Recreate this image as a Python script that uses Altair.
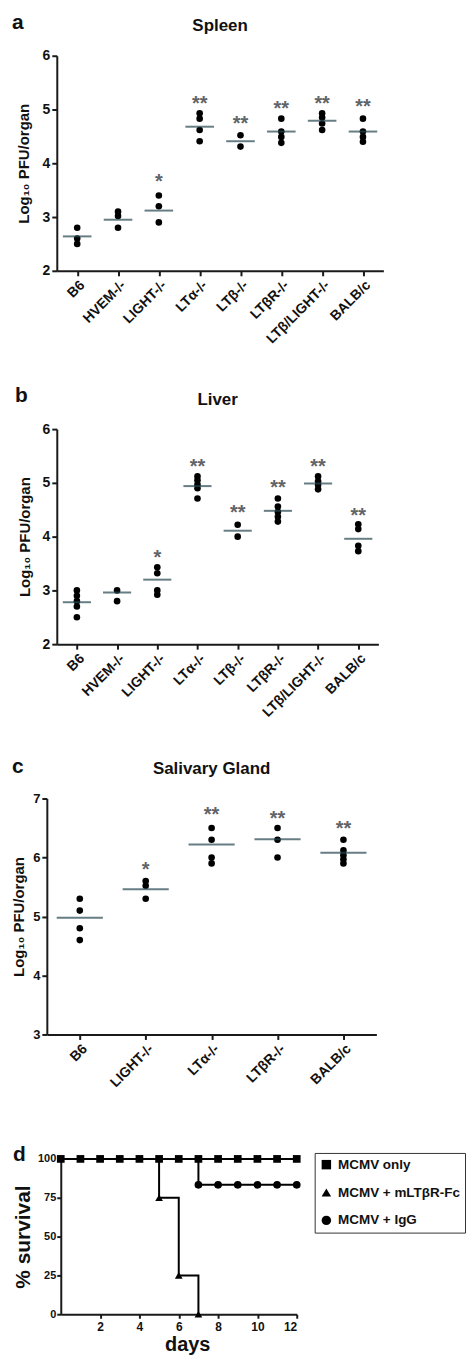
import altair as alt
import pandas as pd

FONT = "Liberation Sans"

# ---------------- data ----------------
spleen_groups = ["B6", "HVEM-/-", "LIGHT-/-", "LTα-/-", "LTβ-/-", "LTβR-/-", "LTβ/LIGHT-/-", "BALB/c"]
spleen_values = [[2.8, 2.6, 2.5], [3.1, 3.02, 2.8], [3.4, 3.2, 2.9], [4.93, 4.83, 4.62, 4.41],
                 [4.52, 4.31], [4.83, 4.59, 4.49, 4.38], [4.93, 4.85, 4.74, 4.62], [4.83, 4.59, 4.49, 4.4]]
spleen_means = [2.64, 2.95, 3.12, 4.68, 4.41, 4.59, 4.79, 4.59]
spleen_stars = ["", "", "*", "**", "**", "**", "**", "**"]
spleen_star_y = [0, 0, 3.74, 5.2, 4.83, 5.11, 5.2, 5.14]

liver_groups = spleen_groups
liver_values = [[3.0, 2.9, 2.8, 2.7, 2.5], [3.0, 2.8], [3.43, 3.32, 3.0, 2.92], [5.12, 5.05, 4.97, 4.9, 4.71],
                [4.22, 4.0], [4.71, 4.56, 4.46, 4.37, 4.28], [5.12, 5.03, 4.96, 4.88], [4.23, 4.14, 3.83, 3.73]]
liver_means = [2.78, 2.96, 3.2, 4.94, 4.11, 4.48, 4.99, 3.96]
liver_stars = ["", "", "*", "**", "**", "**", "**", "**"]
liver_star_y = [0, 0, 3.69, 5.39, 4.54, 5.0, 5.38, 4.48]

sal_groups = ["B6", "LIGHT-/-", "LTα-/-", "LTβR-/-", "BALB/c"]
sal_values = [[5.3, 5.1, 4.8, 4.6], [5.6, 5.52, 5.3], [6.5, 6.3, 6.0, 5.9], [6.5, 6.3, 6.0],
              [6.3, 6.12, 6.04, 5.97, 5.9]]
sal_means = [4.98, 5.46, 6.22, 6.31, 6.08]
sal_stars = ["", "*", "**", "**", "**"]
sal_star_y = [0, 5.88, 6.8, 6.74, 6.57]

surv_series = ["MCMV only", "MCMV + mLTβR-Fc", "MCMV + IgG"]
only_days = [0, 1, 2, 3, 4, 5, 6, 7, 8, 9, 10, 11, 12]
only_surv = [100, 100, 100, 100, 100, 100, 100, 100, 100, 100, 100, 100, 100]
fc_days = [0, 5, 6, 7]
fc_surv = [100, 75, 25, 0]
fc_marker = [False, True, True, True]
igg_days = [0, 7, 8, 9, 10, 11, 12]
igg_surv = [100, 83.3, 83.3, 83.3, 83.3, 83.3, 83.3]
igg_marker = [False, True, True, True, True, True, True]
surv_ticks = [0, 25, 50, 75, 100]
day_ticks = [2, 4, 6, 8, 10, 12]

# ---------------- helpers ----------------
AX = "#1a1a1a"
MEAN_COLOR = "#264650"
STAR_COLOR = "#5f6468"


def txt(text, x, y, size, align="left", weight="bold"):
    return alt.Chart(pd.DataFrame({"t": [text]})).mark_text(
        font=FONT, fontSize=size, fontWeight=weight, align=align, baseline="alphabetic", color="#111"
    ).encode(text="t:N", x=alt.value(x), y=alt.value(y))


def anchor(x, y):
    return alt.Chart(pd.DataFrame({"a": [0]})).mark_rule(opacity=0).encode(
        x=alt.value(x), x2=alt.value(x), y=alt.value(y), y2=alt.value(y + 1))


def dot_panel(groups, values, means, stars, star_y, title, letter, width, plot_h, cell_h, ydom,
              xshift, ylab_size, title_pad, letter_x, letter_y, title_y, extra=None):
    dots = pd.DataFrame([(g, v) for g, vs in zip(groups, values) for v in vs], columns=["group", "value"])
    mdf = pd.DataFrame({"group": groups, "mean": means})
    sdf = pd.DataFrame({"group": groups, "star": stars, "y": star_y})
    sdf = sdf[sdf["star"] != ""]
    xscale = alt.Scale(domain=groups, type="point", padding=0.5, range=[xshift, xshift + width])
    xaxis = alt.Axis(title=None, labelAngle=-45, labelFontSize=14, labelFontWeight="bold",
                     labelFont=FONT, labelColor="#111", tickSize=5, labelPadding=2,
                     labelOverlap=False, offset=-(cell_h - plot_h))
    yscale = alt.Scale(domain=ydom, nice=False, zero=False, range=[plot_h, 0])
    yaxis = alt.Axis(title="Log₁₀ PFU/organ", values=list(range(ydom[0], ydom[1] + 1)), format="d",
                     labelFontSize=ylab_size, labelFontWeight="bold", labelFont=FONT, labelColor="#111",
                     titleFont=FONT, titleFontSize=15, titleFontWeight="bold", titleColor="#111",
                     titlePadding=title_pad, tickSize=5, labelPadding=2, offset=-xshift,
                     labelOverlap=False)
    X = lambda: alt.X("group:N", sort=groups, scale=xscale, axis=xaxis)
    pts = alt.Chart(dots).mark_circle(size=44, color="black", opacity=1).encode(
        x=X(), y=alt.Y("value:Q", scale=yscale, axis=yaxis))
    ticks = alt.Chart(mdf).mark_tick(orient="horizontal", size=width / len(groups) * 0.7,
                                     thickness=2, color=MEAN_COLOR).encode(
        x=X(), y=alt.Y("mean:Q", scale=yscale, axis=yaxis))
    st = alt.Chart(sdf).mark_text(font=FONT, fontSize=20, fontWeight="bold", color=STAR_COLOR,
                                  baseline="alphabetic", dy=11).encode(
        x=X(), y=alt.Y("y:Q", scale=yscale, axis=yaxis), text="star:N")
    ttl = txt(title, xshift + width / 2, title_y, 17, align="center")
    let = txt(letter, letter_x, letter_y, 21)
    layers = ([extra] if extra is not None else []) + [pts, ticks, st, ttl, let]
    return alt.layer(*layers).properties(width=width, height=cell_h)


# common plot origin: x=57; cells stacked with flush bounds
panel_a = dot_panel(spleen_groups, spleen_values, spleen_means, spleen_stars, spleen_star_y,
                    "Spleen", "a", 328, 216, 275, [2, 6], 0, 14, 11, -45, -27, -25,
                    extra=anchor(-49, -45))
panel_b = dot_panel(liver_groups, liver_values, liver_means, liver_stars, liver_star_y,
                    "Liver", "b", 323, 216, 271, [2, 6], 0, 14, 10, -42, -27, -24)
panel_c = dot_panel(sal_groups, sal_values, sal_means, sal_stars, sal_star_y,
                    "Salivary Gland", "c", 331, 237, 262, [3, 7], -10, 13, 6, -45, -26, -25)

# ---------------- survival ----------------
lines = pd.DataFrame(
    [(surv_series[0], d, s, True, i) for i, (d, s) in enumerate(zip(only_days, only_surv))]
    + [(surv_series[1], d, s, m, i) for i, (d, s, m) in enumerate(zip(fc_days, fc_surv, fc_marker))]
    + [(surv_series[2], d, s, m, i) for i, (d, s, m) in enumerate(zip(igg_days, igg_surv, igg_marker))],
    columns=["series", "day", "surv", "marker", "order"])
markers = lines[lines["marker"]]

xs = alt.Scale(domain=[0, 12], nice=False, range=[4, 241])
ys = alt.Scale(domain=[0, 100], nice=False)
xax = alt.Axis(values=day_ticks, title="days", titleFontSize=20, titleFontWeight="bold",
               titleFont=FONT, titleColor="#111", titlePadding=2, labelFontSize=12, labelFontWeight="bold",
               labelFont=FONT, labelColor="#111", tickSize=4, labelPadding=3, titleX=131,
               labelOverlap=False)
yax = alt.Axis(values=surv_ticks, tickCount=5, title="% survival", titleFontSize=21,
               titleFontWeight="bold", titleFont=FONT, titleColor="#111", titlePadding=4,
               labelFontSize=11, labelFontWeight="bold", labelFont=FONT, labelColor="#111",
               tickSize=4, labelPadding=1, offset=-4, labelOverlap=False)

surv_lines = alt.Chart(lines).mark_line(interpolate="step-after", color="black", strokeWidth=2).encode(
    x=alt.X("day:Q", scale=xs, axis=xax), y=alt.Y("surv:Q", scale=ys, axis=yax),
    detail="series:N", order="order:Q")
surv_pts = alt.Chart(markers).mark_point(filled=True, size=60, opacity=1, color="black").encode(
    x=alt.X("day:Q", scale=xs, axis=xax), y=alt.Y("surv:Q", scale=ys, axis=yax),
    shape=alt.Shape("series:N", scale=alt.Scale(domain=surv_series,
                                                 range=["square", "triangle-up", "circle"]),
                    legend=alt.Legend(title=None, orient="none", legendX=259, legendY=-6,
                                      labelFont=FONT, labelFontSize=13.5, labelFontWeight="bold",
                                      labelColor="#111", strokeColor="#333", padding=5, rowPadding=13,
                                      symbolSize=90, symbolFillColor="black", symbolStrokeColor="black",
                                      labelOffset=5, fillColor="white", symbolStrokeWidth=0,
                                      labelLimit=200)))
panel_d = alt.layer(surv_lines, surv_pts, txt("d", -44, 2, 21)).properties(width=237, height=156)

chart = alt.concat(panel_a, panel_b, panel_c, panel_d, columns=1, spacing=100, align="none",
                   bounds="flush").resolve_legend(shape="independent").properties(
    padding={"left": 0, "top": 0, "right": 0, "bottom": 0}, background="white"
).configure_view(stroke=None).configure_axis(
    grid=False, domainColor=AX, tickColor=AX, domainWidth=2, tickWidth=2
)

chart.save("out.html", embed_options={"renderer": "svg", "actions": False})
